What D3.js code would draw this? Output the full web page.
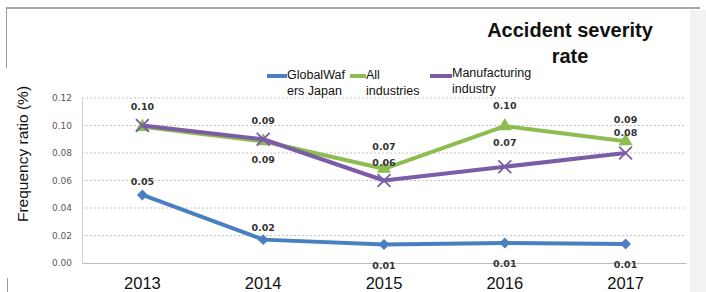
<!DOCTYPE html>
<html>
<head>
<meta charset="utf-8">
<script src="https://cdn.jsdelivr.net/npm/d3@7"></script>
<style>
  body { margin: 0; background: #fff; }
  svg { display: block; }
</style>
</head>
<body>
<div id="chart"></div>
<script>
// data
const years = ["2013", "2014", "2015", "2016", "2017"]
const globalWafers = [0.0495, 0.017, 0.0135, 0.0145, 0.0138]
const allIndustries = [0.099, 0.0885, 0.0685, 0.0995, 0.0885]
const manufacturing = [0.1, 0.09, 0.06, 0.07, 0.08]
const gwLabels = ["0.05", "0.02", "0.01", "0.01", "0.01"]
const allLabels = ["0.10", "0.09", "0.07", "0.10", "0.09"]
const mfgLabels = ["", "0.09", "0.06", "0.07", "0.08"]
const yTicks = [0, 0.02, 0.04, 0.06, 0.08, 0.10, 0.12]

const width = 706
const height = 292
const margin = { top: 98, bottom: 29, left: 82, right: 20 }

const svg = d3.select("div#chart").append("svg").attr("width", width).attr("height", height)

// frame of the slide box
svg.append("line").attr("x1", 6).attr("x2", 700).attr("y1", 8).attr("y2", 8)
    .attr("stroke", "#8a8a8a").attr("stroke-width", 1.5)
svg.append("line").attr("x1", 6.5).attr("x2", 6.5).attr("y1", 8).attr("y2", 68)
    .attr("stroke", "#9a9a9a").attr("stroke-width", 1)
svg.append("line").attr("x1", 7.5).attr("x2", 7.5).attr("y1", 278).attr("y2", 292)
    .attr("stroke", "#9a9a9a").attr("stroke-width", 1)
svg.append("rect").attr("x", 690).attr("y", 10).attr("width", 16).attr("height", 282).attr("fill", "#f2f2f2")

const x = d3.scaleBand().domain(years).range([margin.left, width - margin.right]).padding(0)
const y = d3.scaleLinear().domain([0, 0.12]).range([height - margin.bottom, margin.top])
const cx = d => x(d) + x.bandwidth() / 2

// gridlines
svg.append("g").selectAll("line").data(yTicks.filter(t => t > 0)).join("line")
    .attr("x1", margin.left).attr("x2", width - margin.right)
    .attr("y1", d => y(d)).attr("y2", d => y(d))
    .attr("stroke", "#c4c4c4").attr("stroke-dasharray", "2,2")

// axes
const yAxis = d3.axisLeft(y).tickValues(yTicks).tickFormat(d3.format(".2f")).tickSize(0).tickPadding(10)
const yAxisGroup = svg.append("g").attr("transform", `translate(${margin.left},0)`).call(yAxis)
yAxisGroup.select(".domain").attr("stroke", "#d0d0d0")
yAxisGroup.selectAll("text").attr("font-family", "DejaVu Sans").attr("font-size", 9).attr("fill", "#5a5a5a")

const xAxis = d3.axisBottom(x).tickSize(0).tickPadding(14)
const xAxisGroup = svg.append("g").attr("transform", `translate(0,${y(0)})`).call(xAxis)
xAxisGroup.select(".domain").attr("stroke", "#bcbcbc")
xAxisGroup.selectAll("text").attr("font-family", "Liberation Sans, Arial").attr("font-size", 16.5).attr("fill", "#111")

// y title
svg.append("text").attr("transform", "translate(28,154) rotate(-90)")
    .attr("text-anchor", "middle").attr("font-family", "Liberation Sans, Arial")
    .attr("font-size", 15.5).attr("fill", "#111").text("Frequency ratio (%)")

// title
const title = svg.append("text").attr("text-anchor", "middle").attr("font-family", "Liberation Sans, Arial")
    .attr("font-size", 20).attr("font-weight", "bold").attr("fill", "#111")
title.append("tspan").attr("x", 570).attr("y", 37).text("Accident severity")
title.append("tspan").attr("x", 570).attr("y", 63).text("rate")

const line = d3.line().x((d, i) => cx(years[i])).y(d => y(d))

const series = [
    { name: "All", values: allIndustries, color: "#8dbd4e", marker: "triangle" },
    { name: "Mfg", values: manufacturing, color: "#7b5ca6", marker: "x" },
    { name: "GW", values: globalWafers, color: "#4a7fc1", marker: "diamond" }
]

series.forEach(s => {
    svg.append("path").datum(s.values).attr("d", line)
        .attr("fill", "none").attr("stroke", s.color).attr("stroke-width", 4)
        .attr("stroke-linejoin", "round")
    const g = svg.append("g")
    s.values.forEach((v, i) => {
        const px = cx(years[i]), py = y(v)
        if (s.marker === "triangle") {
            g.append("path").attr("d", d3.symbol(d3.symbolTriangle, 85)())
                .attr("transform", `translate(${px},${py})`).attr("fill", s.color)
        } else if (s.marker === "diamond") {
            g.append("path").attr("d", d3.symbol(d3.symbolSquare, 60)())
                .attr("transform", `translate(${px},${py}) rotate(45)`).attr("fill", s.color)
        } else {
            g.append("path").attr("d", d3.symbol(d3.symbolX, 110)())
                .attr("transform", `translate(${px},${py})`)
                .attr("fill", "none").attr("stroke", s.color).attr("stroke-width", 1.8)
        }
    })
})

// data labels
function addLabels(values, labels, offsets) {
    svg.append("g").selectAll("text").data(values).join("text")
        .attr("x", (d, i) => cx(years[i]))
        .attr("y", (d, i) => y(d) + offsets[i])
        .attr("dy", "0.35em")
        .attr("text-anchor", "middle")
        .attr("font-family", "DejaVu Sans").attr("font-weight", "bold")
        .attr("font-size", 9.5).attr("fill", "#333")
        .text((d, i) => labels[i])
}
addLabels(allIndustries, allLabels, [-20, -21, -22, -21, -22])
addLabels(manufacturing, mfgLabels, [0, 20, -18, -24, -20])
addLabels(globalWafers, gwLabels, [-13, -12, 21, 21, 21])

// legend
const legend = [
    { x1: 267, x2: 287, color: "#4a7fc1", lines: ["GlobalWaf", "ers Japan"], tx: 287, ty: 79 },
    { x1: 350, x2: 366, color: "#8dbd4e", lines: ["All", "industries"], tx: 366, ty: 79 },
    { x1: 430, x2: 452, color: "#7b5ca6", lines: ["Manufacturing", "industry"], tx: 452, ty: 77 }
]
legend.forEach(l => {
    svg.append("line").attr("x1", l.x1).attr("x2", l.x2).attr("y1", 76).attr("y2", 76)
        .attr("stroke", l.color).attr("stroke-width", 4)
    const t = svg.append("text").attr("font-family", "Liberation Sans, Arial").attr("font-size", 12.5).attr("fill", "#111")
    l.lines.forEach((s, k) => t.append("tspan").attr("x", l.tx).attr("y", l.ty + k * 15.5).text(s))
})
</script>
</body>
</html>
